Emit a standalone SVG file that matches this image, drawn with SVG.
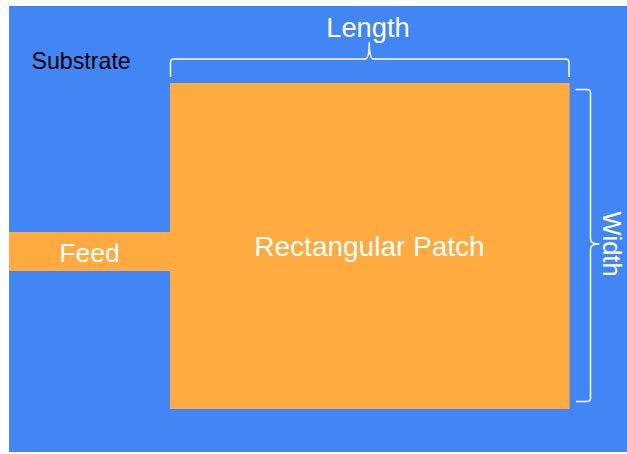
<svg xmlns="http://www.w3.org/2000/svg" width="627" height="454" viewBox="0 0 627 454">
  <style>
    .lbl { font-family: "Liberation Sans", Arial, sans-serif; fill: #ffffff; }
    .brace { fill: none; stroke: #ffffff; stroke-width: 1.5; stroke-linejoin: round; }
  </style>
  <rect x="0" y="0" width="627" height="454" fill="#ffffff"/>
  <g id="substrate">
    <rect x="9" y="6" width="618" height="446" fill="#4285F4"/>
    <text x="31.5" y="69" font-family="Liberation Sans, Arial, sans-serif" font-size="23.2" fill="#000000">Substrate</text>
  </g>
  <g id="feed">
    <rect x="9" y="232" width="162" height="39" fill="#FFAB40"/>
    <text class="lbl" x="89.5" y="261.5" font-size="26.5" text-anchor="middle">Feed</text>
  </g>
  <g id="patch">
    <rect x="170" y="83" width="399.5" height="326" fill="#FFAB40"/>
    <text class="lbl" x="369.5" y="256" font-size="28" text-anchor="middle">Rectangular Patch</text>
  </g>
  <g id="length-label">
    <text class="lbl" x="368" y="37" font-size="27.3" text-anchor="middle">Length</text>
  </g>
  <g id="width-label">
    <text class="lbl" transform="translate(602.5,244) rotate(90)" x="0" y="0" font-size="25.5" text-anchor="middle">Width</text>
  </g>
  <g id="connectors">
    <path class="brace" d="M170.5,77 L170.5,62.5 Q170.5,59 174,59 L365,59 Q369.3,59 369.3,42.5 Q369.3,59 373.5,59 L565.5,59 Q569,59 569,62.5 L569,77"/>
    <path class="brace" d="M575.5,89.5 L587,89.5 Q590.5,89.5 590.5,93 L590.5,239 Q590.5,244 599,244 Q590.5,244 590.5,249 L590.5,398 Q590.5,401.5 587,401.5 L576,401.5"/>
  </g>
</svg>
